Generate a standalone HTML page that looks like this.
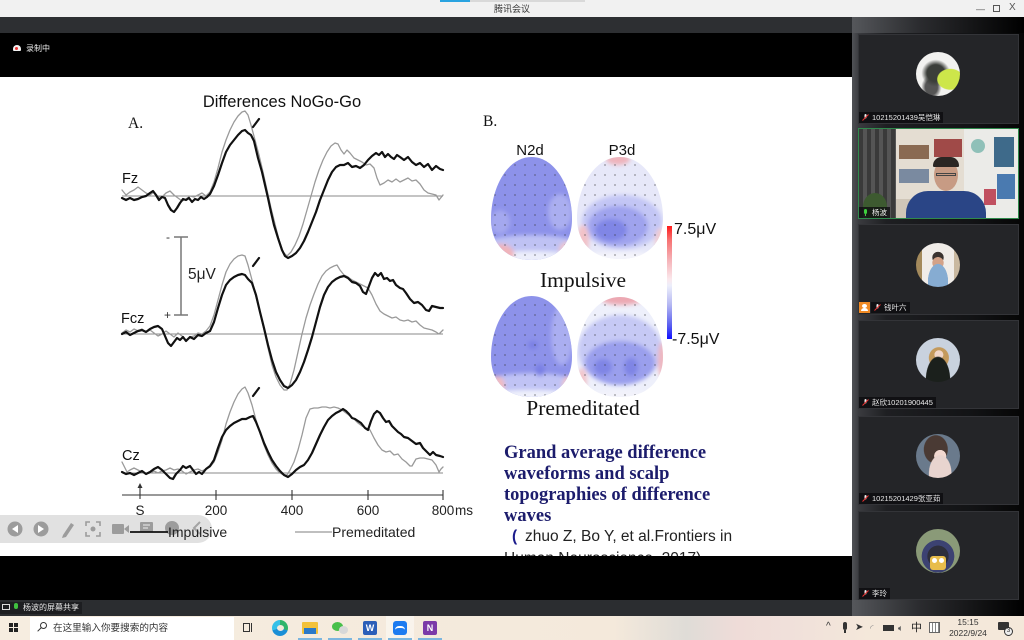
<!DOCTYPE html>
<html><head><meta charset="utf-8">
<style>
*{margin:0;padding:0;box-sizing:border-box}
body{width:1024px;height:640px;overflow:hidden;position:relative;background:#000;font-family:"Liberation Sans","Noto Sans CJK SC",sans-serif}
.a{position:absolute}
.tile{position:absolute;left:858px;width:161px;background:#242528;border:1px solid #333438}
.av{position:absolute;left:916px;width:44px;height:44px;border-radius:50%;overflow:hidden}
.lbl{position:absolute;left:859px;height:11px;background:rgba(10,10,12,0.75);color:#e8e8e8;font-size:7.5px;line-height:11px;padding-left:13px;padding-right:3px;white-space:nowrap;font-family:"Liberation Sans","Noto Sans CJK SC",sans-serif}
.mic{position:absolute;left:3px;top:2px;width:7px;height:7px}
</style></head><body>

<!-- title bar -->
<div class="a" style="left:0;top:0;width:1024px;height:17px;background:#f1f1f1"></div>
<div class="a" style="left:440px;top:0;width:30px;height:2px;background:#2aa3e0"></div>
<div class="a" style="left:470px;top:0;width:115px;height:2px;background:#d9d9d9"></div>
<div class="a" style="left:0;top:3px;width:1024px;text-align:center;font-size:9px;color:#333;line-height:12px">腾讯会议</div>
<div class="a" style="left:976px;top:3px;font-size:9px;color:#555;line-height:12px">—</div>
<div class="a" style="left:993px;top:5px;width:7px;height:7px;border:1px solid #555"></div>
<div class="a" style="left:1009px;top:2px;font-size:10px;color:#555;line-height:12px">X</div>

<!-- dark band + black header -->
<div class="a" style="left:0;top:17px;width:852px;height:16px;background:#2d2f32"></div>
<div class="a" style="left:0;top:33px;width:852px;height:44px;background:#000"></div>
<div class="a" style="left:13px;top:45px;width:8px;height:6px;background:#f2f2f2;border-radius:4px 4px 1px 1px"></div>
<div class="a" style="left:15px;top:47px;width:3px;height:3px;background:#e33;border-radius:50%"></div>
<div class="a" style="left:26px;top:43px;font-size:8px;color:#eee;line-height:12px">录制中</div>

<!-- slide -->
<svg class="a" style="left:0;top:77px" width="852" height="479" viewBox="0 77 852 479" xmlns="http://www.w3.org/2000/svg">
<defs>
<clipPath id="h1"><path d="M531.5,157 C555.8,157 572,188 572,219 C572,245 555.8,260 531.5,260 C507.2,260 491,245 491,219 C491,188 507.2,157 531.5,157Z"/></clipPath>
<clipPath id="h2"><path d="M620,157 C645.8,157 663,188 663,218 C663,244 645.8,259 620,259 C594.2,259 577,244 577,218 C577,188 594.2,157 620,157Z"/></clipPath>
<clipPath id="h3"><path d="M531.5,296 C555.8,296 572,326 572,357 C572,382 555.8,397 531.5,397 C507.2,397 491,382 491,357 C491,326 507.2,296 531.5,296Z"/></clipPath>
<clipPath id="h4"><path d="M620,297 C645.8,297 663,327 663,357 C663,382 645.8,397 620,397 C594.2,397 577,382 577,357 C577,327 594.2,297 620,297Z"/></clipPath>
<filter id="bl" x="-30%" y="-30%" width="160%" height="160%"><feGaussianBlur stdDeviation="2"/></filter>
<pattern id="dots" width="10" height="10" patternUnits="userSpaceOnUse"><circle cx="5" cy="5" r="0.6" fill="#333"/></pattern>
<linearGradient id="cb" x1="0" y1="0" x2="0" y2="1">
<stop offset="0" stop-color="#ff1a1a"/><stop offset="0.12" stop-color="#f77070"/><stop offset="0.3" stop-color="#f5b2b7"/><stop offset="0.47" stop-color="#fbe8ec"/><stop offset="0.53" stop-color="#eceefb"/><stop offset="0.7" stop-color="#b3b6f2"/><stop offset="0.88" stop-color="#5a5ff0"/><stop offset="1" stop-color="#1010ff"/>
</linearGradient>
</defs>
<rect x="0" y="77" width="852" height="479" fill="#fff"/>

<!-- Panel A -->
<text x="282" y="107" font-family="Liberation Sans" font-size="16.5" text-anchor="middle" fill="#111">Differences NoGo-Go</text>
<text x="128" y="128" font-family="Liberation Serif" font-size="15.5" fill="#111">A.</text>
<text x="122" y="183" font-family="Liberation Sans" font-size="14.5" fill="#111">Fz</text>
<text x="121" y="323" font-family="Liberation Sans" font-size="14.5" fill="#111">Fcz</text>
<text x="122" y="460" font-family="Liberation Sans" font-size="14.5" fill="#111">Cz</text>

<g stroke="#8a8a8a" stroke-width="1.1">
<line x1="122" y1="196" x2="443" y2="196"/>
<line x1="122" y1="334" x2="443" y2="334"/>
<line x1="122" y1="473" x2="443" y2="473"/>
</g>

<!-- scale bar -->
<g stroke="#777" stroke-width="1.5">
<line x1="181" y1="237" x2="181" y2="315"/>
<line x1="174" y1="237" x2="188" y2="237"/>
<line x1="174" y1="315" x2="188" y2="315"/>
</g>
<text x="166" y="241" font-family="Liberation Sans" font-size="12" fill="#333">-</text>
<text x="164" y="319" font-family="Liberation Sans" font-size="12" fill="#333">+</text>
<text x="188" y="279" font-family="Liberation Sans" font-size="15.5" fill="#222">5μV</text>

<g fill="none" stroke-linejoin="round" stroke-linecap="round">
<g stroke="#9a9a9a" stroke-width="1.3">
<polyline points="122,190 126,195 130,192 134,190 138,187 142,190 146,193 150,195 154,192 158,197 162,197 166,193 170,191 174,195 178,198 182,201 186,199 190,196 194,197 198,195 202,193 206,196 210,192 214,182 218,168 222,152 226,140 230,130 234,122 238,116 242,112 245,111 248,115 251,125 255,140 259,155 263,172 267,190 271,208 275,224 279,240 283,252 287,256 291,252 295,245 299,236 303,224 307,210 311,196 315,182 319,170 323,160 327,152 331,146 335,143 338,144 341,150 344,154 347,150 350,153 354,158 358,160 362,162 366,165 370,164 374,168 377,178 380,185 384,183 388,180 392,182 396,179 400,182 404,180 408,178 412,181 416,180 420,184 424,190 428,193 432,194 436,195 439,200 443,195"/>
<polyline points="122,333 126,330 130,332 134,329 138,331 142,329 146,332 150,330 154,333 158,336 162,334 166,331 170,334 174,337 178,333 182,336 186,340 190,337 194,336 198,333 202,334 206,331 210,326 214,315 218,300 222,285 226,272 230,264 234,259 238,256 242,255 245,256 248,265 252,280 256,297 260,313 264,330 268,348 272,365 276,377 280,385 284,390 287,390 290,384 294,370 298,352 302,334 306,318 310,305 314,294 318,284 322,276 326,271 330,268 334,266 337,265 340,270 344,275 348,277 352,280 356,282 360,284 364,286 368,288 372,295 376,304 380,311 384,314 388,316 392,318 396,317 400,320 404,321 408,320 412,322 416,321 420,325 424,328 428,329 432,330 436,332 439,334 443,330"/>
<polyline points="122,462 124,466 127,472 130,470 134,468 138,470 142,472 146,474 150,473 154,471 158,473 162,471 166,470 170,468 174,470 178,469 182,471 186,474 190,472 194,470 198,469 202,471 206,469 210,467 214,462 218,452 222,440 226,424 230,412 234,402 238,394 242,389 245,387 248,393 252,405 256,420 260,433 264,445 268,455 272,463 276,469 280,473 284,475 287,475 290,470 294,462 298,450 302,435 306,418 310,409 314,408 318,408 322,407 326,407 330,408 334,407 338,408 342,410 346,413 350,416 354,419 358,423 362,426 366,428 370,430 374,438 378,445 382,450 386,452 390,451 394,455 398,454 402,459 406,462 410,466 412,466 416,459 420,458 424,458 428,459 432,460 436,465 439,472 441,469 443,467"/>
</g>
<g stroke="#111" stroke-width="2.2">
<polyline points="122,198 126,200 130,198 134,200 138,199 142,197 146,196 150,193 153,191 156,195 159,200 162,197 165,198 168,205 171,210 174,212 177,208 180,203 183,199 186,200 189,198 192,202 195,199 198,200 201,197 204,199 207,197 210,194 214,186 218,175 222,163 226,152 230,145 234,140 238,135 242,131 245,130 248,133 251,135 254,141 258,158 262,172 265,185 268,198 271,212 274,225 278,238 282,250 285,256 288,258 292,256 296,253 300,248 304,241 308,232 312,222 316,212 320,200 324,190 328,180 332,172 336,167 340,165 344,165 348,163 352,167 356,166 360,168 364,165 368,160 372,156 376,153 379,155 382,152 385,157 388,154 391,157 394,159 397,155 400,157 404,160 408,157 412,162 416,165 420,163 424,167 428,164 432,170 436,166 440,169 443,170"/>
<polyline points="122,334 126,332 130,335 134,333 138,331 142,330 146,332 150,329 154,327 158,326 162,329 165,336 168,343 171,346 174,342 177,338 180,340 183,337 186,341 190,337 194,339 198,335 202,336 206,333 210,331 214,322 218,308 222,295 226,285 230,280 234,277 238,275 242,274 245,275 248,279 252,283 256,295 260,312 264,328 268,345 272,360 276,372 280,380 284,386 288,388 292,385 296,380 300,372 304,362 308,350 312,337 316,322 320,307 324,295 328,287 332,282 336,279 340,277 344,276 348,278 352,282 356,283 360,286 363,292 366,294 369,286 372,278 375,273 378,276 381,273 384,279 387,278 390,281 393,280 396,285 400,288 403,289 406,293 410,299 414,303 418,302 422,305 426,310 429,311 432,306 436,307 440,308 443,308"/>
<polyline points="122,472 126,474 130,473 134,475 138,473 142,471 146,474 150,472 154,469 158,467 162,470 166,474 170,478 173,479 176,474 180,470 183,466 186,468 190,466 193,470 196,474 199,472 202,474 206,469 210,466 214,460 218,448 222,437 226,430 230,426 234,423 238,421 242,419 246,419 250,417 253,416 256,422 260,432 264,443 268,452 272,460 276,466 280,471 284,475 288,477 292,474 296,470 300,467 304,465 308,460 312,453 316,444 320,435 324,427 328,420 332,416 336,413 340,411 343,409 346,411 349,414 352,418 355,419 358,421 361,423 365,428 368,430 371,421 374,414 377,411 380,413 383,418 386,422 389,421 392,426 395,429 398,432 401,434 404,437 408,438 412,441 416,444 420,443 423,448 426,451 430,455 433,452 436,455 440,456 443,457"/>
</g>
<g stroke="#111" stroke-width="2.2">
<line x1="253" y1="127" x2="259" y2="119"/>
<line x1="253" y1="266" x2="259" y2="258"/>
<line x1="253" y1="396" x2="259" y2="388"/>
</g>
</g>

<!-- time axis -->
<g stroke="#333" stroke-width="1.1">
<line x1="122" y1="495" x2="443" y2="495"/>
<line x1="216" y1="490" x2="216" y2="500"/>
<line x1="292" y1="490" x2="292" y2="500"/>
<line x1="368" y1="490" x2="368" y2="500"/>
<line x1="443" y1="490" x2="443" y2="500"/>
<line x1="140" y1="485" x2="140" y2="499"/>
</g>
<path d="M137.5,488 L140,483 L142.5,488Z" fill="#333"/>
<g font-family="Liberation Sans" font-size="13.5" fill="#222" text-anchor="middle">
<text x="140" y="515">S</text>
<text x="216" y="515">200</text>
<text x="292" y="515">400</text>
<text x="368" y="515">600</text>
<text x="443" y="515">800</text>
</g>
<text x="455" y="515" font-family="Liberation Sans" font-size="13.5" fill="#222">ms</text>

<!-- toolbar overlay -->
<rect x="-14" y="515" width="226" height="28" rx="14" fill="#dcdcdc" fill-opacity="0.85"/>
<g fill="#9c9c9c">
<circle cx="15" cy="529" r="7.5"/>
<circle cx="41" cy="529" r="7.5"/>
<path d="M63,535 L71,523 L74,525 L66,537 L62,538Z"/>
<rect x="112" y="524" width="12" height="10" rx="1"/>
<path d="M124,529 L129,525 L129,533Z"/>
<rect x="140" y="522" width="13" height="10" rx="1"/>
<circle cx="172" cy="528" r="7"/>
<path d="M200,522 L194,528 L200,534" fill="none" stroke="#a3a3a3" stroke-width="2"/>
</g>
<path d="M18,525 L12,529 L18,533Z" fill="#fff"/>
<path d="M38,525 L44,529 L38,533Z" fill="#fff"/>
<g fill="none" stroke="#9c9c9c" stroke-width="1.6">
<path d="M86,526 V522 H90 M96,522 H100 V526 M100,532 V536 H96 M90,536 H86 V532"/>
</g>
<circle cx="93" cy="529" r="2.5" fill="#9c9c9c"/>
<g stroke="#eee" stroke-width="1"><line x1="143" y1="525" x2="150" y2="525"/><line x1="143" y1="528" x2="148" y2="528"/></g>

<!-- legend -->
<line x1="130" y1="532" x2="168" y2="532" stroke="#111" stroke-width="1.8"/>
<text x="168" y="537" font-family="Liberation Sans" font-size="14" fill="#222">Impulsive</text>
<line x1="295" y1="532" x2="332" y2="532" stroke="#999" stroke-width="1.3"/>
<text x="332" y="537" font-family="Liberation Sans" font-size="14" fill="#222">Premeditated</text>

<!-- Panel B -->
<text x="483" y="126" font-family="Liberation Serif" font-size="15.5" fill="#111">B.</text>
<text x="530" y="155" font-family="Liberation Sans" font-size="15" text-anchor="middle" fill="#111">N2d</text>
<text x="622" y="155" font-family="Liberation Sans" font-size="15" text-anchor="middle" fill="#111">P3d</text>

<g clip-path="url(#h1)">
<rect x="485" y="150" width="95" height="115" fill="#8d92ea"/>
<g filter="url(#bl)">
<ellipse cx="560" cy="212" rx="12" ry="18" fill="#aaaef0"/>
<ellipse cx="500" cy="222" rx="10" ry="12" fill="#a4a8ef"/>
<ellipse cx="531" cy="246" rx="50" ry="11" fill="#bfc2f4"/>
<ellipse cx="531" cy="259" rx="50" ry="8" fill="#eceefb"/>
<ellipse cx="500" cy="254" rx="14" ry="10" fill="#f0b4ba"/>
<ellipse cx="567" cy="250" rx="8" ry="8" fill="#f0c6cb"/>
</g>
<rect x="485" y="150" width="95" height="115" fill="url(#dots)"/>
</g>

<g clip-path="url(#h2)">
<rect x="570" y="150" width="100" height="115" fill="#e7e8f9"/>
<g filter="url(#bl)">
<ellipse cx="618" cy="159" rx="12" ry="6" fill="#eeb4bc"/>
<ellipse cx="622" cy="222" rx="40" ry="27" fill="#c3c6f5"/>
<ellipse cx="618" cy="226" rx="30" ry="20" fill="#9fa3ee"/>
<ellipse cx="611" cy="230" rx="16" ry="11" fill="#8086e6"/>
<ellipse cx="620" cy="258" rx="45" ry="6" fill="#f4f4fb"/>
<ellipse cx="583" cy="240" rx="6" ry="15" fill="#f2c2c8"/>
<ellipse cx="660" cy="240" rx="5" ry="12" fill="#f2cdd1"/>
</g>
<rect x="570" y="150" width="100" height="115" fill="url(#dots)"/>
</g>

<g clip-path="url(#h3)">
<rect x="485" y="290" width="95" height="115" fill="#8d92ea"/>
<g filter="url(#bl)">
<ellipse cx="562" cy="335" rx="11" ry="30" fill="#aaaef1"/>
<ellipse cx="531" cy="383" rx="45" ry="10" fill="#c0c3f5"/>
<ellipse cx="531" cy="397" rx="45" ry="7" fill="#eef0fb"/>
<ellipse cx="497" cy="386" rx="8" ry="10" fill="#f0bcc2"/>
<ellipse cx="568" cy="386" rx="6" ry="10" fill="#f0c4ca"/>
<ellipse cx="533" cy="345" rx="5" ry="4" fill="#7a80e4"/>
<ellipse cx="540" cy="370" rx="5" ry="6" fill="#7a80e4"/>
</g>
<rect x="485" y="290" width="95" height="115" fill="url(#dots)"/>
</g>

<g clip-path="url(#h4)">
<rect x="570" y="290" width="100" height="115" fill="#eef0fb"/>
<g filter="url(#bl)">
<ellipse cx="622" cy="298" rx="22" ry="7" fill="#eca8b2"/>
<ellipse cx="620" cy="350" rx="42" ry="35" fill="#c6c9f5"/>
<ellipse cx="620" cy="363" rx="35" ry="22" fill="#9a9fed"/>
<ellipse cx="603" cy="367" rx="9" ry="8" fill="#7f85e5"/>
<ellipse cx="631" cy="367" rx="7" ry="9" fill="#7f85e5"/>
<ellipse cx="662" cy="360" rx="4" ry="18" fill="#efb6bd"/>
<ellipse cx="582" cy="380" rx="5" ry="12" fill="#f2c6cc"/>
<ellipse cx="620" cy="398" rx="40" ry="7" fill="#f3f3fb"/>
</g>
<rect x="570" y="290" width="100" height="115" fill="url(#dots)"/>
</g>

<text x="583" y="287" font-family="Liberation Serif" font-size="21.5" text-anchor="middle" fill="#111">Impulsive</text>
<text x="583" y="415" font-family="Liberation Serif" font-size="21.5" text-anchor="middle" fill="#111">Premeditated</text>

<rect x="667" y="226" width="5" height="113" fill="url(#cb)"/>
<text x="674" y="234" font-family="Liberation Sans" font-size="16" fill="#111">7.5μV</text>
<text x="672" y="344" font-family="Liberation Sans" font-size="16" fill="#111">-7.5μV</text>

<!-- text block -->
<g font-family="Liberation Serif" font-weight="bold" font-size="18.5" fill="#1c1c6c">
<text x="504" y="458">Grand average difference</text>
<text x="504" y="479">waveforms and scalp</text>
<text x="504" y="500">topographies of difference</text>
<text x="504" y="521">waves</text>
</g>
<text x="512" y="541" font-family="Liberation Sans, Noto Sans CJK SC, sans-serif" font-size="15.5" font-weight="bold" fill="#1c1c8c">(</text>
<text x="525" y="541" font-family="Liberation Sans" font-size="15.5" fill="#222">zhuo Z, Bo Y, et al.Frontiers in</text>
<text x="504" y="563" font-family="Liberation Sans" font-size="15.5" fill="#222">Human Neuroscience, 2017)</text>
</svg>

<!-- bottom bar -->
<div class="a" style="left:0;top:600px;width:852px;height:16px;background:#2b2d30"></div>
<div class="a" style="left:0;top:602px;width:82px;height:12px;background:#1d1e21"></div>
<div class="a" style="left:2px;top:604px;width:8px;height:6px;border:1px solid #ddd"></div>
<div class="a" style="left:14px;top:603px;width:4px;height:6px;background:#3fbf3f;border-radius:2px"></div>
<div class="a" style="left:23px;top:602px;font-size:8px;color:#e8e8e8;line-height:12px">杨波的屏幕共享</div>

<!-- sidebar -->
<div class="a" style="left:852px;top:17px;width:172px;height:599px;background:linear-gradient(90deg,#505256 0,#3a3b3f 4%,#1e1f22 20%,#121315 70%,#050505 100%)"></div>
<div class="a" style="left:852px;top:17px;width:172px;height:16px;background:linear-gradient(90deg,#55575b,#2a2b2e 40%,#000)"></div>
<div class="a" style="left:852px;top:600px;width:172px;height:16px;background:linear-gradient(90deg,#55575b,#2a2b2e 40%,#000)"></div>

<div class="tile" style="top:34px;height:90px"></div>
<div class="tile" style="top:128px;height:91px;border:1.5px solid #2f8a4c;background:#cfc6b8;overflow:hidden">
  <div class="a" style="left:0;top:0;width:37px;height:91px;background:repeating-linear-gradient(90deg,#3a3a3a 0 4px,#555 4px 8px)"></div>
  <div class="a" style="left:37px;top:0;width:70px;height:70px;background:#e4ddd2"></div>
  <div class="a" style="left:40px;top:16px;width:30px;height:14px;background:#8a6a52"></div>
  <div class="a" style="left:40px;top:40px;width:30px;height:14px;background:#7a8aa0"></div>
  <div class="a" style="left:75px;top:10px;width:28px;height:18px;background:#a04a48"></div>
  <div class="a" style="left:105px;top:0;width:54px;height:91px;background:#ebebe8"></div>
  <div class="a" style="left:135px;top:8px;width:20px;height:30px;background:#3e6a8a"></div>
  <div class="a" style="left:138px;top:45px;width:18px;height:25px;background:#4a7ab0"></div>
  <div class="a" style="left:112px;top:10px;width:14px;height:14px;background:#8fc0b8;border-radius:50%"></div>
  <div class="a" style="left:125px;top:60px;width:12px;height:16px;background:#c05060"></div>
  <div class="a" style="left:4px;top:64px;width:24px;height:27px;background:#3d5a30;border-radius:50%"></div>
  <div class="a" style="left:47px;top:62px;width:80px;height:32px;background:#2a4586;border-radius:22px 22px 0 0"></div>
  <div class="a" style="left:75px;top:30px;width:24px;height:32px;background:#c79b84;border-radius:50%"></div>
  <div class="a" style="left:74px;top:28px;width:26px;height:10px;background:#2b2623;border-radius:12px 12px 2px 2px"></div>
  <div class="a" style="left:77px;top:44px;width:20px;height:3px;border:1px solid #444"></div>
</div>
<div class="tile" style="top:224px;height:91px"></div>
<div class="tile" style="top:320px;height:89px"></div>
<div class="tile" style="top:416px;height:89px"></div>
<div class="tile" style="top:511px;height:89px"></div>

<!-- avatars -->
<div class="av" style="top:52px;background:radial-gradient(ellipse at 78% 62%,#cde64a 0 26%,transparent 28%),radial-gradient(ellipse at 45% 48%,#3b3e3a 0 26%,transparent 42%),radial-gradient(ellipse at 35% 80%,#555 0 15%,transparent 25%),#f2f2f0"></div>
<div class="av" style="top:243px;background:radial-gradient(ellipse at 50% 88%,#86acd2 0 32%,transparent 33%),radial-gradient(circle at 50% 45%,#d3a288 0 17%,transparent 18%),radial-gradient(circle at 50% 33%,#3a3330 0 15%,transparent 16%),linear-gradient(90deg,#a48a5c 0 14%,#f0ece8 14% 86%,#c9b8a0 86%)"></div>
<div class="av" style="top:338px;background:radial-gradient(ellipse at 50% 95%,#1b201c 0 38%,transparent 40%),radial-gradient(circle at 52% 38%,#f0d6c8 0 12%,transparent 13%),radial-gradient(ellipse at 52% 45%,#c49a5c 0 30%,transparent 32%),#c9d2de"></div>
<div class="av" style="top:434px;background:radial-gradient(ellipse at 55% 90%,#e8d4cf 0 32%,transparent 34%),radial-gradient(circle at 55% 50%,#f2d8d0 0 18%,transparent 19%),radial-gradient(ellipse at 45% 35%,#4a3a34 0 34%,transparent 36%),#6a7a8c"></div>
<div class="av" style="top:529px;background:radial-gradient(circle at 50% 62%,#2e2f3c 0 30%,#3c4272 31% 46%,transparent 47%),#8a9a78"></div>
<div class="a" style="left:930px;top:556px;width:16px;height:14px;background:#e8bd4c;border-radius:3px"></div>
<div class="a" style="left:932px;top:558px;width:5px;height:5px;background:#fff;border-radius:50%"></div>
<div class="a" style="left:939px;top:558px;width:5px;height:5px;background:#fff;border-radius:50%"></div>

<!-- labels -->
<div class="lbl" style="top:112px">10215201439吴恺琳<svg class="mic" viewBox="0 0 7 7"><rect x="2.5" y="0" width="2" height="4.5" rx="1" fill="#eee"/><line x1="0.5" y1="6.5" x2="6.5" y2="0.5" stroke="#e33" stroke-width="1"/></svg></div>
<div class="lbl" style="top:207px">杨波<svg class="mic" viewBox="0 0 7 7"><rect x="2" y="0" width="3" height="5" rx="1.5" fill="#3fcf3f"/><rect x="3" y="5" width="1" height="2" fill="#3fcf3f"/></svg></div>
<div class="a" style="left:859px;top:302px;width:11px;height:11px;background:#f08a24"></div>
<div class="a" style="left:862px;top:304px;width:5px;height:4px;background:#fff;border-radius:50%"></div>
<div class="a" style="left:861px;top:308px;width:7px;height:3px;background:#fff;border-radius:3px 3px 0 0"></div>
<div class="lbl" style="top:302px;left:871px">钱叶六<svg class="mic" viewBox="0 0 7 7"><rect x="2.5" y="0" width="2" height="4.5" rx="1" fill="#eee"/><line x1="0.5" y1="6.5" x2="6.5" y2="0.5" stroke="#e33" stroke-width="1"/></svg></div>
<div class="lbl" style="top:397px">赵欣10201900445<svg class="mic" viewBox="0 0 7 7"><rect x="2.5" y="0" width="2" height="4.5" rx="1" fill="#eee"/><line x1="0.5" y1="6.5" x2="6.5" y2="0.5" stroke="#e33" stroke-width="1"/></svg></div>
<div class="lbl" style="top:493px">10215201429张亚茹<svg class="mic" viewBox="0 0 7 7"><rect x="2.5" y="0" width="2" height="4.5" rx="1" fill="#eee"/><line x1="0.5" y1="6.5" x2="6.5" y2="0.5" stroke="#e33" stroke-width="1"/></svg></div>
<div class="lbl" style="top:588px">李玲<svg class="mic" viewBox="0 0 7 7"><rect x="2.5" y="0" width="2" height="4.5" rx="1" fill="#eee"/><line x1="0.5" y1="6.5" x2="6.5" y2="0.5" stroke="#e33" stroke-width="1"/></svg></div>

<!-- taskbar -->
<div class="a" style="left:0;top:616px;width:1024px;height:24px;background:linear-gradient(90deg,#f6ede0 0%,#f4e9db 60%,#dfdcd7 67%,#efdcd8 72%,#f0e0da 77%,#f4e8da 85%,#f4e8da 100%)"></div>
<div class="a" style="left:9px;top:623px;width:4px;height:4px;background:#222"></div>
<div class="a" style="left:14px;top:623px;width:4px;height:4px;background:#222"></div>
<div class="a" style="left:9px;top:628px;width:4px;height:4px;background:#222"></div>
<div class="a" style="left:14px;top:628px;width:4px;height:4px;background:#222"></div>
<div class="a" style="left:30px;top:617px;width:204px;height:23px;background:#fff"></div>
<div class="a" style="left:40px;top:622px;width:7px;height:7px;border:1.2px solid #333;border-radius:50%"></div>
<div class="a" style="left:37px;top:629px;width:5px;height:1.3px;background:#333;transform:rotate(-45deg)"></div>
<div class="a" style="left:53px;top:622px;font-size:9.6px;color:#333;line-height:13px">在这里输入你要搜索的内容</div>
<div class="a" style="left:243px;top:623px;width:7px;height:9px;border:1.2px solid #333"></div>
<div class="a" style="left:251px;top:623px;width:2px;height:9px;border-left:1.2px solid #333"></div>
<div class="a" style="left:272px;top:620px;width:16px;height:16px;border-radius:50%;background:conic-gradient(#2fb56a 0 30%,#1a8fd6 30% 70%,#35c0e8 70%)"></div>
<div class="a" style="left:277px;top:625px;width:7px;height:6px;border-radius:50%;background:#f4e9db"></div>
<div class="a" style="left:302px;top:622px;width:16px;height:12px;background:#f2c13a;border-radius:1px"></div>
<div class="a" style="left:304px;top:628px;width:12px;height:6px;background:#2a79c8"></div>
<div class="a" style="left:332px;top:622px;width:11px;height:9px;background:#48c04a;border-radius:50%"></div>
<div class="a" style="left:339px;top:626px;width:9px;height:8px;background:#d8d8d8;border-radius:50%"></div>
<div class="a" style="left:363px;top:621px;width:14px;height:14px;background:#2b5eb8;border-radius:2px;color:#fff;font-size:9px;font-weight:bold;text-align:center;line-height:14px">W</div>
<div class="a" style="left:386px;top:616px;width:28px;height:24px;background:rgba(255,255,255,0.45)"></div>
<div class="a" style="left:393px;top:621px;width:14px;height:14px;background:#1d7bf0;border-radius:3px"></div>
<div class="a" style="left:395px;top:626px;width:10px;height:4px;border-top:2.5px solid #fff;border-radius:5px 5px 0 0"></div>
<div class="a" style="left:423px;top:621px;width:14px;height:14px;background:#7b3aa8;border-radius:2px;color:#fff;font-size:9px;font-weight:bold;text-align:center;line-height:14px">N</div>
<div class="a" style="left:298px;top:638px;width:24px;height:2px;background:#7cb6df"></div>
<div class="a" style="left:328px;top:638px;width:24px;height:2px;background:#7cb6df"></div>
<div class="a" style="left:358px;top:638px;width:24px;height:2px;background:#7cb6df"></div>
<div class="a" style="left:388px;top:638px;width:24px;height:2px;background:#7cb6df"></div>
<div class="a" style="left:418px;top:638px;width:24px;height:2px;background:#7cb6df"></div>

<!-- tray -->
<div class="a" style="left:826px;top:620px;font-size:10px;color:#333;line-height:14px">^</div>
<div class="a" style="left:843px;top:622px;width:4px;height:8px;background:#333;border-radius:2px"></div>
<div class="a" style="left:844px;top:630px;width:2px;height:3px;background:#333"></div>
<div class="a" style="left:855px;top:621px;font-size:10px;color:#333;line-height:14px">➤</div>
<div class="a" style="left:870px;top:621px;font-size:9px;color:#888;line-height:14px">◜</div>
<div class="a" style="left:883px;top:625px;width:11px;height:6px;border:1px solid #333;background:#333"></div>
<div class="a" style="left:898px;top:621px;font-size:9px;color:#555;line-height:14px">🔈︎</div>
<div class="a" style="left:911px;top:621px;font-size:11px;color:#222;line-height:14px">中</div>
<div class="a" style="left:929px;top:622px;width:11px;height:11px;border:1px solid #666;background:repeating-linear-gradient(90deg,#fff 0 2px,#888 2px 3px)"></div>
<div class="a" style="left:946px;top:617px;width:44px;text-align:center;font-size:8.5px;color:#333;line-height:11px">15:15</div>
<div class="a" style="left:946px;top:628px;width:44px;text-align:center;font-size:8.5px;color:#333;line-height:11px">2022/9/24</div>
<div class="a" style="left:998px;top:622px;width:11px;height:8px;background:#333;border-radius:1px"></div>
<div class="a" style="left:1004px;top:627px;width:9px;height:9px;background:#eee;border:1px solid #333;border-radius:50%;font-size:6px;line-height:7px;text-align:center;color:#222">3</div>

</body></html>
